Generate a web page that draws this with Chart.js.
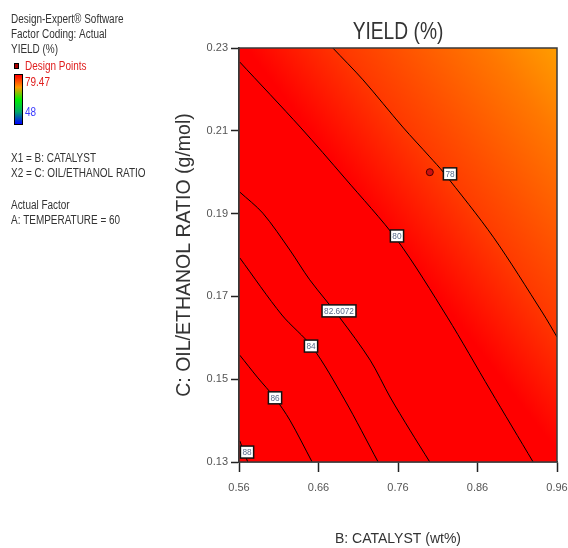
<!DOCTYPE html>
<html><head><meta charset="utf-8">
<script src="https://cdn.jsdelivr.net/npm/chart.js@4.4.1/dist/chart.umd.min.js"></script>
<style>html,body{margin:0;padding:0;background:#fff}#wrap{width:568px;height:548px}</style>
</head><body><div id="wrap"><canvas id="c" width="568" height="548"></canvas></div>
<script>
// ---- data ----
const xTicks = [0.56, 0.66, 0.76, 0.86, 0.96];
const yTicks = [0.13, 0.15, 0.17, 0.19, 0.21, 0.23];
const contourLevels = ['78', '80', '82.6072', '84', '86', '88'];
const c78X = [0.678, 0.716, 0.766, 0.800, 0.817, 0.880, 0.942, 0.960];
const c78Y = [0.230, 0.2223, 0.2109, 0.2037, 0.2000, 0.1843, 0.1660, 0.1602];
const c80X = [0.561, 0.637, 0.693, 0.759, 0.822, 0.876, 0.930];
const c80Y = [0.2266, 0.2109, 0.1986, 0.1836, 0.1650, 0.1474, 0.130];
const c826X = [0.561, 0.590, 0.624, 0.649, 0.687, 0.725, 0.750, 0.775, 0.800];
const c826Y = [0.1952, 0.1901, 0.1812, 0.1740, 0.1648, 0.1546, 0.1457, 0.1377, 0.130];
const c84X = [0.561, 0.614, 0.652, 0.693, 0.735];
const c84Y = [0.1793, 0.1655, 0.1578, 0.1450, 0.130];
const c86X = [0.561, 0.583, 0.605, 0.624, 0.652];
const c86Y = [0.1558, 0.1505, 0.1455, 0.1401, 0.130];
const c88X = [0.561, 0.571];
const c88Y = [0.1351, 0.130];
const labelX = [0.8254, 0.7587, 0.6858, 0.6506, 0.6053, 0.5701];
const labelY = [0.1996, 0.1846, 0.1665, 0.1580, 0.1455, 0.1324];
const designX = [0.800];
const designY = [0.200];
const colorMax = '79.47';
const colorMin = '48';

// ---- build ----
const zip = (xs, ys) => xs.map((x, i) => ({x: x, y: ys[i]}));
const contourSets = [[c78X, c78Y], [c80X, c80Y], [c826X, c826Y], [c84X, c84Y], [c86X, c86Y], [c88X, c88Y]];
const datasets = contourSets.map((s, i) => ({
  type: 'line', label: contourLevels[i], data: zip(s[0], s[1]),
  borderColor: '#000', borderWidth: 1, pointRadius: 0, tension: 0.3, fill: false
}));
datasets.push({
  type: 'scatter', label: 'Design Points', data: zip(designX, designY),
  pointRadius: 3.5, pointStyle: 'circle', backgroundColor: '#cc1010', borderColor: '#4a0000', borderWidth: 1
});

const SANS = '"Liberation Sans", Arial, sans-serif';

function narrowText(ctx, text, x, y, sx) {
  ctx.save();
  ctx.translate(x, y);
  ctx.scale(sx, 1);
  ctx.fillText(text, 0, 0);
  ctx.restore();
}

const bgPlugin = {
  id: 'bg',
  beforeDatasetsDraw(chart) {
    const ca = chart.chartArea, ctx = chart.ctx;
    const dx = ca.left - 239, dy = ca.top - 48;
    const g = ctx.createLinearGradient(131.1 + dx, -101.3 + dy, 324.7 + dx, -250.7 + dy);
    g.addColorStop(0, '#ff0000');
    g.addColorStop(0.32, '#ff3a00');
    g.addColorStop(0.78, '#ff7800');
    g.addColorStop(1, '#ff9c00');
    ctx.save();
    ctx.fillStyle = g;
    ctx.fillRect(ca.left, ca.top, ca.right - ca.left, ca.bottom - ca.top);
    ctx.restore();
  }
};

const overlayPlugin = {
  id: 'overlay',
  afterDatasetsDraw(chart) {
    const ctx = chart.ctx, xs = chart.scales.x, ys = chart.scales.y, ca = chart.chartArea;
    ctx.save();
    ctx.font = '9px ' + SANS;
    ctx.textAlign = 'center';
    ctx.textBaseline = 'middle';
    labelX.forEach((lx, i) => {
      const px = xs.getPixelForValue(lx), py = ys.getPixelForValue(labelY[i]);
      const w = ctx.measureText(contourLevels[i]).width * 0.92 + 4, h = 12;
      ctx.fillStyle = '#fff';
      ctx.fillRect(px - w / 2, py - h / 2, w, h);
      ctx.lineWidth = 1.5;
      ctx.strokeStyle = '#111';
      ctx.strokeRect(px - w / 2, py - h / 2, w, h);
      ctx.fillStyle = '#5a6a8a';
      narrowText(ctx, contourLevels[i], px, py + 0.5, 0.92);
    });
    ctx.strokeStyle = '#3a3a3a';
    ctx.lineWidth = 1.5;
    ctx.strokeRect(ca.left, ca.top, ca.right - ca.left, ca.bottom - ca.top);
    ctx.restore();
  },
  afterDraw(chart) {
    const ctx = chart.ctx, ca = chart.chartArea;
    ctx.save();
    ctx.fillStyle = '#333';
    ctx.textAlign = 'center';
    ctx.textBaseline = 'middle';
    ctx.font = '24px ' + SANS;
    narrowText(ctx, 'YIELD (%)', (ca.left + ca.right) / 2, 32, 0.8);
    ctx.textAlign = 'left';
    ctx.font = '12px ' + SANS;
    const sx = 0.83;
    narrowText(ctx, 'Design-Expert® Software', 11, 20, sx);
    narrowText(ctx, 'Factor Coding: Actual', 11, 35, sx);
    narrowText(ctx, 'YIELD (%)', 11, 50, sx);
    ctx.fillStyle = '#e02020';
    narrowText(ctx, 'Design Points', 25, 67, sx);
    narrowText(ctx, colorMax, 25, 83, sx);
    ctx.fillStyle = '#3a3aff';
    narrowText(ctx, colorMin, 25, 113, sx);
    // design point marker in legend
    ctx.fillStyle = '#aa0000';
    ctx.strokeStyle = '#000';
    ctx.lineWidth = 1;
    ctx.fillRect(14.5, 63.5, 4, 5);
    ctx.strokeRect(14.5, 63.5, 4, 5);
    // color bar
    const g = ctx.createLinearGradient(0, 75, 0, 124);
    g.addColorStop(0, '#ff0000');
    g.addColorStop(0.25, '#ff9900');
    g.addColorStop(0.5, '#00ee00');
    g.addColorStop(0.75, '#00aa66');
    g.addColorStop(1, '#0000ff');
    ctx.fillStyle = g;
    ctx.fillRect(15, 75, 7, 49);
    ctx.strokeRect(14.5, 74.5, 8, 50);
    ctx.fillStyle = '#333';
    narrowText(ctx, 'X1 = B: CATALYST', 11, 159, sx);
    narrowText(ctx, 'X2 = C: OIL/ETHANOL RATIO', 11, 174, sx);
    narrowText(ctx, 'Actual Factor', 11, 206, sx);
    narrowText(ctx, 'A: TEMPERATURE = 60', 11, 221, sx);
    ctx.restore();
  }
};

new Chart(document.getElementById('c'), {
  type: 'scatter',
  data: {datasets: datasets},
  options: {
    responsive: false, animation: false, devicePixelRatio: 1,
    layout: {padding: {left: 173, top: 48, right: 11, bottom: 0}},
    plugins: {legend: {display: false}, tooltip: {enabled: false}, title: {display: false}},
    scales: {
      x: {
        type: 'linear', min: 0.56, max: 0.96,
        afterBuildTicks: s => { s.ticks = xTicks.map(v => ({value: v})); },
        afterFit: s => { s.height = 86; s.paddingLeft = 0; s.paddingRight = 0; },
        ticks: {callback: v => v.toFixed(2), font: {size: 11, family: SANS}, color: '#555', padding: 9, maxRotation: 0},
        grid: {drawOnChartArea: false, drawTicks: true, tickLength: 10, color: '#222', tickWidth: 1.5},
        border: {display: true, color: '#333', width: 1.5},
        title: {display: true, text: 'B: CATALYST (wt%)', font: {size: 14, family: SANS}, color: '#333', padding: 0}
      },
      y: {
        type: 'linear', min: 0.13, max: 0.23,
        afterBuildTicks: s => { s.ticks = yTicks.map(v => ({value: v})); },
        afterFit: s => { s.width = 66; s.paddingTop = 0; s.paddingBottom = 0; },
        ticks: {callback: v => v.toFixed(2), font: {size: 11, family: SANS}, color: '#555', padding: 3},
        grid: {drawOnChartArea: false, drawTicks: true, tickLength: 8, color: '#222', tickWidth: 1.5},
        border: {display: true, color: '#333', width: 1.5},
        title: {display: true, text: 'C: OIL/ETHANOL RATIO (g/mol)', font: {size: 19.5, family: SANS}, color: '#333', padding: 0}
      }
    }
  },
  plugins: [bgPlugin, overlayPlugin]
});
</script></body></html>
